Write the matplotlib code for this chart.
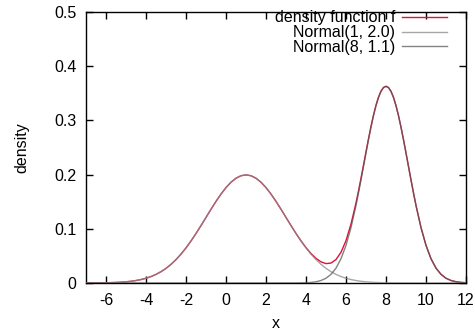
import matplotlib
matplotlib.use("Agg")
import matplotlib.pyplot as plt
from matplotlib.ticker import FixedLocator, FuncFormatter

plt.rcParams['font.family'] = ['Liberation Sans', 'DejaVu Sans']
plt.rcParams['axes.unicode_minus'] = False

# sample positions
x_values = [
    -7.0, -6.75, -6.5, -6.25, -6.0, -5.75, -5.5, -5.25,
    -5.0, -4.75, -4.5, -4.25, -4.0, -3.75, -3.5, -3.25,
    -3.0, -2.75, -2.5, -2.25, -2.0, -1.75, -1.5, -1.25,
    -1.0, -0.75, -0.5, -0.25, 0.0, 0.25, 0.5, 0.75,
    1.0, 1.25, 1.5, 1.75, 2.0, 2.25, 2.5, 2.75,
    3.0, 3.25, 3.5, 3.75, 4.0, 4.25, 4.5, 4.75,
    5.0, 5.25, 5.5, 5.75, 6.0, 6.25, 6.5,
    6.625, 6.75, 6.875, 7.0, 7.125, 7.25, 7.375, 7.5,
    7.625, 7.75, 7.875, 8.0, 8.125, 8.25, 8.375, 8.5,
    8.625, 8.75, 8.875, 9.0, 9.125, 9.25, 9.375,
    9.5, 9.75, 10.0, 10.25, 10.5, 10.75, 11.0, 11.25,
    11.5, 11.75, 12.0,
]

normal1 = [  # Normal(1, 2.0)
    0.00007, 0.00011, 0.00018, 0.00028, 0.00044, 0.00067, 0.00101, 0.00151,
    0.00222, 0.00320, 0.00455, 0.00636, 0.00876, 0.01188, 0.01587, 0.02086,
    0.02700, 0.03439, 0.04314, 0.05327, 0.06476, 0.07751, 0.09132, 0.10594,
    0.12098, 0.13603, 0.15057, 0.16408, 0.17603, 0.18593, 0.19333, 0.19792,
    0.19947, 0.19792, 0.19333, 0.18593, 0.17603, 0.16408, 0.15057, 0.13603,
    0.12098, 0.10594, 0.09132, 0.07751, 0.06476, 0.05327, 0.04314, 0.03439,
    0.02700, 0.02086, 0.01587, 0.01188, 0.00876, 0.00636, 0.00455,
    0.00382, 0.00320, 0.00267, 0.00222, 0.00183, 0.00151, 0.00124, 0.00101,
    0.00083, 0.00067, 0.00054, 0.00044, 0.00035, 0.00028, 0.00022, 0.00018,
    0.00014, 0.00011, 0.00009, 0.00007, 0.00005, 0.00004, 0.00003,
    0.00002, 0.00001, 0.0, 0.0, 0.0, 0.0, 0.0, 0.0,
    0.0, 0.0, 0.0,
]

normal2 = [  # Normal(8, 1.1)
    0.0, 0.0, 0.0, 0.0, 0.0, 0.0, 0.0, 0.0,
    0.0, 0.0, 0.0, 0.0, 0.0, 0.0, 0.0, 0.0,
    0.0, 0.0, 0.0, 0.0, 0.0, 0.0, 0.0, 0.0,
    0.0, 0.0, 0.0, 0.0, 0.0, 0.0, 0.0, 0.0,
    0.0, 0.0, 0.0, 0.0, 0.0, 0.0, 0.0, 0.0,
    0.00001, 0.00003, 0.00008, 0.00021, 0.00049, 0.00108, 0.00230, 0.00461,
    0.00880, 0.01594, 0.02741, 0.04477, 0.06944, 0.10230, 0.14312,
    0.16604, 0.19015, 0.21496, 0.23992, 0.26430, 0.28746, 0.30861, 0.32707,
    0.34220, 0.35342, 0.36034, 0.36267, 0.36034, 0.35342, 0.34220, 0.32707,
    0.30861, 0.28746, 0.26430, 0.23992, 0.21496, 0.19015, 0.16604,
    0.14312, 0.10230, 0.06944, 0.04477, 0.02741, 0.01594, 0.00880, 0.00461,
    0.00230, 0.00108, 0.00049,
]

density_f = [
    0.00007, 0.00011, 0.00018, 0.00028, 0.00044, 0.00067, 0.00101, 0.00151,
    0.00222, 0.00320, 0.00455, 0.00636, 0.00876, 0.01188, 0.01587, 0.02086,
    0.02700, 0.03439, 0.04314, 0.05327, 0.06476, 0.07751, 0.09132, 0.10594,
    0.12098, 0.13603, 0.15057, 0.16408, 0.17603, 0.18593, 0.19333, 0.19792,
    0.19947, 0.19792, 0.19333, 0.18593, 0.17603, 0.16408, 0.15057, 0.13603,
    0.12099, 0.10597, 0.09140, 0.07772, 0.06525, 0.05435, 0.04544, 0.03900,
    0.03580, 0.03680, 0.04328, 0.05665, 0.07820, 0.10866, 0.14767,
    0.16986, 0.19335, 0.21763, 0.24214, 0.26613, 0.28897, 0.30985, 0.32808,
    0.34303, 0.35409, 0.36088, 0.36311, 0.36069, 0.35370, 0.34242, 0.32725,
    0.30875, 0.28757, 0.26439, 0.23999, 0.21501, 0.19019, 0.16607,
    0.14314, 0.10231, 0.06944, 0.04477, 0.02741, 0.01594, 0.00880, 0.00461,
    0.00230, 0.00108, 0.00049,
]

labels = ["density function f", "Normal(1, 2.0)", "Normal(8, 1.1)"]
x_ticks = [-6, -4, -2, 0, 2, 4, 6, 8, 10, 12]
y_ticks = [0, 0.1, 0.2, 0.3, 0.4, 0.5]

fig = plt.figure(figsize=(4.75, 3.33), dpi=100)
ax = fig.add_axes([86 / 475, 1 - 283 / 333, 380 / 475, 271 / 333])

ax.plot(x_values, density_f, color='#e0103a', lw=1.0, label=labels[0], zorder=2)
ax.plot(x_values, normal1, color='#8a8a8a', lw=1.0, alpha=0.75, label=labels[1], zorder=3)
ax.plot(x_values, normal2, color='#5a5a5a', lw=1.0, alpha=0.75, label=labels[2], zorder=3)

ax.set_xlim(-7, 12)
ax.set_ylim(0, 0.5)
ax.xaxis.set_major_locator(FixedLocator(x_ticks))
ax.yaxis.set_major_locator(FixedLocator(y_ticks))
ax.yaxis.set_major_formatter(FuncFormatter(lambda v, p: "0" if v == 0 else f"{v:g}"))
ax.xaxis.set_major_formatter(FuncFormatter(lambda v, p: f"{v:g}"))
ax.tick_params(direction='in', length=5, width=1, top=True, right=True,
               labelsize=11.5, colors='black', pad=7)
for s in ax.spines.values():
    s.set_linewidth(1.0)

ax.set_xlabel("x", fontsize=11.5, labelpad=6)
ax.set_ylabel("density", fontsize=11.5, labelpad=18)

leg = ax.legend(loc='upper right', bbox_to_anchor=(0.950, 1.006), frameon=False,
                markerfirst=False, fontsize=11.5, handlelength=2.8, handletextpad=0.45,
                labelspacing=-0.01, borderpad=0, borderaxespad=0)

fig.savefig("out.png", dpi=100)
